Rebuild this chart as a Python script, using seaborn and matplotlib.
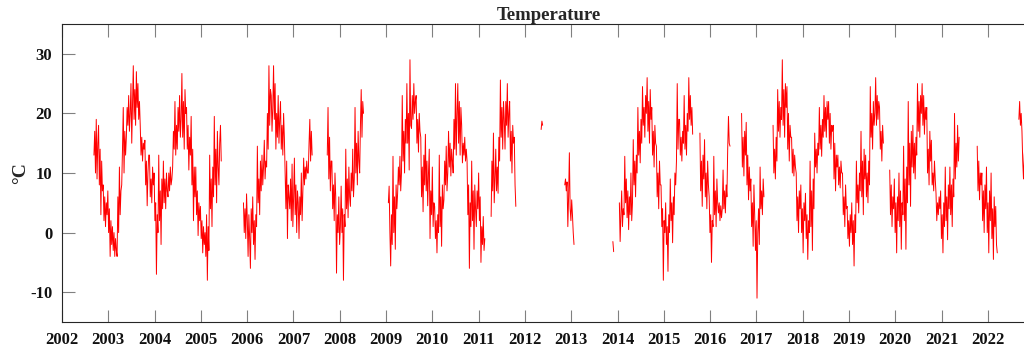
import numpy as np
import pandas as pd
import matplotlib
matplotlib.use("Agg")
import matplotlib.pyplot as plt
import seaborn as sns

# Samples are spaced 1/60 of a year apart inside each record segment
STEP = 1.0 / 60.0

# Record segments: start (decimal year) and temperature samples (°C)
t2002_start = 2002.69
t2002 = [13, 17, 10, 19, 9, 15, 18, 8, 14, 3, 12, 7, 8, 2, 6, 1, 5, 3,
         7, 0, 4, -4, 2, -2, 1, -3, 0, -4, -1, -3, -4, 6, 0, 11, 3, 7,
         8, 14, 21, 10, 17, 13, 16, 21, 18, 23, 17, 20, 25, 15, 22, 28, 19, 24,
         18, 27, 21, 25, 19, 22, 18, 13, 16, 12, 15, 14, 15.5, 8, 12, 4.5, 10, 13,
         13, 6, 9, 5, 11, 8, 10, 2, 5, -7, 3, 0, 13, 2, 7, -2, 9, 4,
         12, 5, 9, 4, 10, 7, 6, 10, 7, 11, 8, 9, 11, 17, 14, 22, 13, 18,
         14, 21, 17, 23, 16, 19, 26.7, 16, 22, 14, 24, 20, 21, 14, 18, 10.5, 16, 13,
         19.5, 8, 14, 2, 11, 6, 11, 3, 7, -0.5, 5, 2, 4.4, -1, 2, -3.4, 1, -2,
         0, -4, 3, -8, 1, -3, 13, 4, 9, 1, 11, 6, 19.5, 8, 14, 5, 17, 11,
         8, 15, 18, 12]

t2005_start = 2005.92
t2005 = [5, 0, 4, -1, 6.5, 2, -4, 3, -1, -6, 4, 0, 6, -2, 2, -4.5, 3, 1,
         14.5, 5, 9, 3, 12, 7, 13, 8, 11, 15.5, 9, 12, 11, 20, 14, 28, 18, 24,
         23, 17, 21, 28, 19, 25, 14, 20, 16, 23, 15, 19, 22, 14, 18, 13, 20, 16,
         10, 4, 12, -1, 8, 6, 4, 9, 2, 11.5, 1, 6, 12.5, 3, 8, 0, 7, 5,
         -1, 6, 3, 10, 2, 7, 12.5, 8, 11, 9, 12, 10, 10, 15, 19, 12, 17, 13]

t2007_start = 2007.73
t2007 = [13, 21, 9, 16, 7, 12, 12, 4, 8, 2, 10, 6, -6.8, 3, 0, 6, -2, 1,
         7.8, 0, 4, -8, 3, 1, 14, 4, 9, 2.5, 11, 6, 4.4, 10, 7, 14, 6, 9,
         21, 10, 15, 8, 17, 12, 10, 18, 24, 16, 22, 20]

t2009_start = 2009.05
t2009 = [5, 7.8, 0, -5.6, 3, -2, 12.8, 0, 6, -2.8, 8, 4, 6.6, 11, 8, 12.8, 7, 10,
         23, 12, 17, 10, 19, 15, 25, 15, 20, 10.5, 29, 18, 17.5, 23, 19, 25, 20, 22,
         23, 15, 19, 13.5, 20, 17, 16, 6, 11, 3.5, 13, 8, 16.5, 7, 12, 4.5, 10, 14,
         -1, 7, 3, 11, 1, 5, 4.4, -1, 2, -3.4, 3, 0, 13, 1, 6, -2.3, 8, 4,
         5.5, 12, 8, 14.5, 7, 10, 17, 11, 15, 9.5, 14, 12, 10, 19, 14, 25, 13, 20,
         25, 15, 22, 13, 21, 18, 11.7, 15, 13, 16, 12, 14, 12, 3, 8, -6, 5, 1,
         12, 2, 7, -2.8, 8, 4, 1, 7, 4, 10, 2, 6, -5, 1, -2, 2.7, -3, -1]

t2011_start = 2011.27
t2011 = [2.7, 12, 7, 16.7, 5, 9, 14, 7, 11, 6.6, 16, 12, 25.6, 16, 21, 14, 22, 19,
         14, 22, 18, 25, 16, 20, 22, 12, 17, 10, 18, 15, 16, 8, 4.4]

t2012a_start = 2012.35
t2012a = [17.3, 18.7, 18]

t2012b_start = 2012.86
t2012b = [8, 9, 7, 8.5, 1, 6, 13.4, 4, 2, 5.5, 3, 0, -2]

t2013_start = 2013.90
t2013 = [-1.5, -3.2]

t2014_start = 2014.04
t2014 = [5, -1.5, 3, 7, 1, 4, 3, 12.8, 5, 9, 2.5, 7, 0.5, 6, 3, 10, 2, 5,
         15.6, 8, 12, 6, 13, 10, 21, 13, 17, 11.7, 19, 15, 24.5, 18, 21, 16, 23, 20,
         26, 17, 22, 15, 24, 19, 21, 13, 17, 11, 18, 15, 14.5, 6, 10, 4, 12, 8,
         8, 1, 4, -8, 2, 0, 5, -2, 1, -6.5, 3, 0, 9, 2, 5, -1.7, 6, 3,
         10, 8, 12, 25, 14, 19, 19, 13, 16, 12, 17, 15, 23, 14, 18, 13, 20, 17,
         26, 19, 23, 18, 21, 16.5]

t2015_start = 2015.78
t2015 = [16.7, 7, 12, 4.4, 13, 9, 15.6, 6, 10, 4, 12, 8, 6, 0, 3, -5, 2, 1,
         12.8, 3, 7, 1, 9, 5, 3.3, 5, 2, 4.5, 2.5, 4, 10.5, 4, 7, 3.3, 8, 6,
         14, 19.5, 15, 14.5]

t2016_start = 2016.68
t2016 = [20, 11, 16, 9.5, 17, 13, 18.5, 8, 13, 5.5, 11, 7, 9, 1, 5, -2.3, 8, 3,
         -3, 2, -11, 0, 4, -2, 11, 4, 7, 3, 9, 6]

t2017_start = 2017.36
t2017 = [18, 10, 14, 9, 16, 12, 24, 17, 22, 16, 21, 19, 29, 18, 24, 16, 25, 21,
         24.5, 14, 20, 12, 18, 16, 16, 10, 14, 9.5, 13, 11, 10, 2, 6, 0, 7, 4,
         8, 0, 4, -3.4, 5, 2, 6.6, -1, 3, -4.5, 2, 0, 12, 1, 7, -3, 9, 4,
         16.7, 11, 14, 10, 15, 13, 21, 14, 18, 12.8, 19, 16, 23, 17, 21, 16, 22, 19,
         22, 15, 20, 14, 18, 17, 18, 9, 15, 7, 13, 11, 13, 8, 11, 7.5, 12, 10,
         10, 3, 6, 1, 8, 4, 4.4, -1, 2, -2.3, 3, 0, 5, -2, 2, -5.6, 3, 0,
         12, 5, 8, 3.3, 10, 7, 17, 6, 12, 3, 14, 9, 13, 6, 10, 5, 12, 8,
         24.5, 16, 20, 14, 22, 18, 20, 26, 18, 23, 19, 22, 21, 14, 17, 12, 18, 15]

t2019_start = 2019.88
t2019 = [10.5, 3, 8, 1, 6, 4, 9, 0, 5, -3.4, 6, 2, 10, 1, 7, -2.8, 5, 3,
         14.5, 2, 9, -2.8, 11, 5, 22, 8, 15, 4.4, 17, 11, 18, 10, 15, 9, 16, 13,
         25, 17, 22, 16, 23, 20, 25, 18, 23, 16.5, 21, 19, 21, 10, 14, 8, 17, 12,
         15.5, 8, 10, 7, 12, 9, 6.6, 2, 5, 3, 6, 4, 7, -1, 3, -3.4, 5, 1,
         11, 2, 6, -1.2, 8, 4, 11, 3, 8, 1, 9, 6, 20, 9, 15, 11, 18, 12, 16]

t2021_start = 2021.77
t2021 = [14.5, 7, 12, 5.5, 10, 8, 10, 2, 7, 0, 8, 4, 11, 0, 5, -3.4, 7, 2,
         10, -1, 4, -4.5, 6, 1, 4.4, -2, -3.4]

t2022_start = 2022.67
t2022 = [19, 22, 18, 20, 17, 12, 9, 13, 15]

year_ticks = list(range(2002, 2023))
temp_ticks = [-10, 0, 10, 20, 30]

segments = [
    (t2002_start, t2002), (t2005_start, t2005), (t2007_start, t2007),
    (t2009_start, t2009), (t2011_start, t2011), (t2012a_start, t2012a),
    (t2012b_start, t2012b), (t2013_start, t2013), (t2014_start, t2014),
    (t2015_start, t2015), (t2016_start, t2016), (t2017_start, t2017),
    (t2019_start, t2019), (t2021_start, t2021), (t2022_start, t2022),
]

frames = []
for k, (start, vals) in enumerate(segments):
    frames.append(pd.DataFrame({
        "year": start + STEP * np.arange(len(vals)),
        "temp": vals,
        "segment": k,
    }))
df = pd.concat(frames, ignore_index=True)

sns.set_style("white")
plt.rcParams["font.family"] = ["Liberation Serif", "DejaVu Serif"]
plt.rcParams["font.weight"] = "bold"

fig = plt.figure(figsize=(10.24, 3.5), dpi=100)
ax = fig.add_axes([62 / 1024, 28 / 350, 974 / 1024, 298 / 350])

sns.lineplot(data=df, x="year", y="temp", units="segment", estimator=None,
             sort=False, color="#ff0000", linewidth=0.7, ax=ax, legend=False)

ax.set_xlim(2002, 2023.04)
ax.set_ylim(-15, 35)
ax.set_xticks(year_ticks)
ax.set_xticklabels([str(y) for y in year_ticks])
ax.set_yticks(temp_ticks)
ax.set_yticklabels([str(t) for t in temp_ticks])

ax.tick_params(axis="both", direction="in", length=9, width=0.8,
               color="#808080", labelcolor="#111111", labelsize=12, pad=7,
               top=True, right=True, bottom=True, left=True)
for lbl in ax.get_xticklabels() + ax.get_yticklabels():
    lbl.set_fontweight("bold")

for side in ["left", "bottom", "top", "right"]:
    ax.spines[side].set_visible(True)
    ax.spines[side].set_color("#262626")
    ax.spines[side].set_linewidth(0.8)

ax.set_title("Temperature", fontsize=13.5, fontweight="bold", pad=3)
ax.set_xlabel("")
ax.set_ylabel("°C", fontsize=14, fontweight="bold", labelpad=1)

fig.savefig("out.png", dpi=100)
